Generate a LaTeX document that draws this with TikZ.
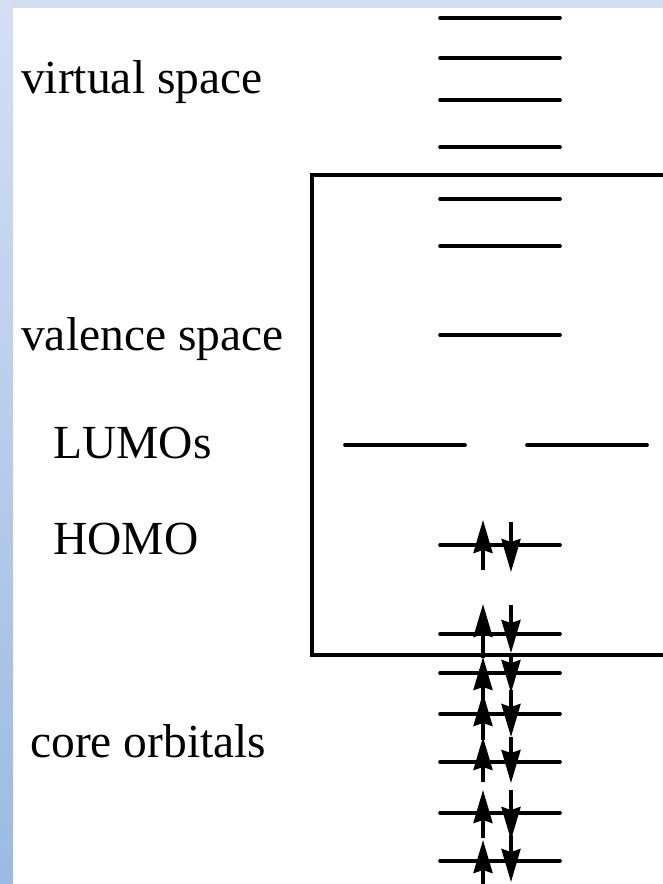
\documentclass[tikz,border=0pt]{standalone}
\usepackage{fontspec}
\setmainfont{Liberation Serif}
\usetikzlibrary{arrows.meta}
\definecolor{stripblue}{RGB}{210,221,241}
\definecolor{bartop}{RGB}{212,223,242}
\definecolor{barbot}{RGB}{155,186,228}
\begin{document}
\begin{tikzpicture}[x=1pt,y=-1pt,
  orb/.style={line width=3.7pt, line cap=round},
  spin/.style={line width=3.5pt, -{Stealth[length=33pt,width=19pt,inset=3pt]}},
  lbl/.style={anchor=base west, inner sep=0pt, font=\fontsize{47.5}{57}\selectfont},
  frame/.style={line width=3.5pt}]
\useasboundingbox (0,0) rectangle (663,884);
\clip (0,0) rectangle (663,884);
% background decorations
\fill[stripblue] (0,0) rectangle (663,8);
\shade[top color=bartop, bottom color=barbot] (0,0) rectangle (13,884);
% valence box
\draw[frame] (670,175) -- (312,175) -- (312,655) -- (670,655);
% labels
\node[lbl] (virt) at (21,93) {virtual space};
\node[lbl] (val) at (21,350) {valence space};
\node[lbl] (lumo) at (53,458) {LUMOs};
\node[lbl] (homo) at (53,554) {HOMO};
\node[lbl] (core) at (30,757) {core orbitals};
% single orbital levels
\foreach \y in {18,58,100,147,199,246,335,545,634,673,714,762,813,861}
  \draw[orb] (440,\y) -- (560,\y);
% LUMOs (degenerate)
\draw[orb] (345,445) -- (465,445);
\draw[orb] (527,445) -- (647,445);
% electrons: HOMO
\draw[spin] (483,570) -- (483,520);
\draw[spin] (511,522) -- (511,572);
% electrons: core and lower valence
\foreach \a/\b/\c/\d in {658/604/605/653, 700/657/655/693, 740/693/690/737,
                         782/737/737/783, 838/790/790/840, 886/840/835/882}{
  \draw[spin] (483,\a) -- (483,\b);
  \draw[spin] (511,\c) -- (511,\d);
}
\end{tikzpicture}
\end{document}
